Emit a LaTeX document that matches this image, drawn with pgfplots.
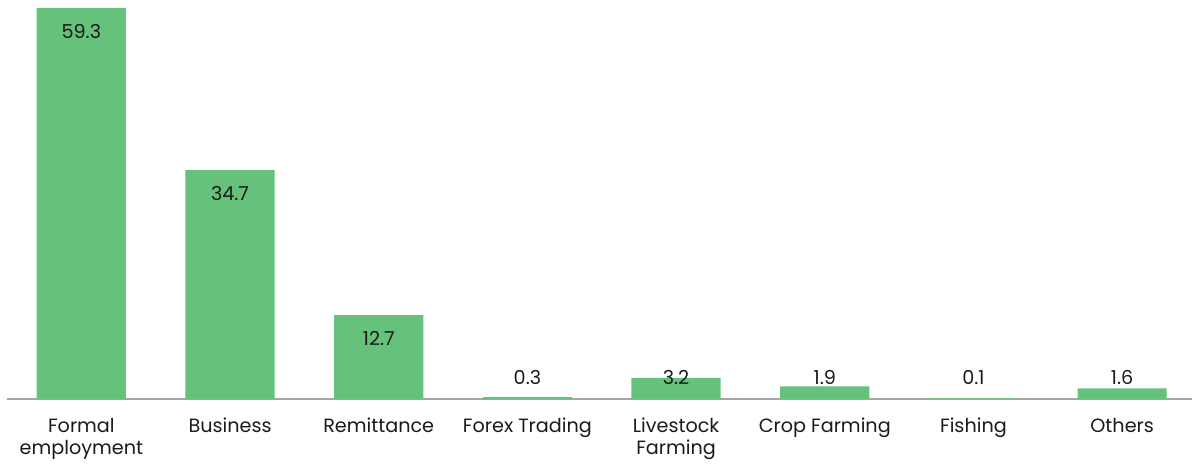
\documentclass[border=0pt]{standalone}
\usepackage{pgfplots}
\pgfplotsset{compat=1.18}
\usetikzlibrary{calc}
\usepackage{fontspec}
\setmainfont{Poppins}
\definecolor{barg}{RGB}{102,193,122}
\definecolor{axg}{RGB}{166,166,166}
\definecolor{txt}{RGB}{26,26,26}
\begin{document}
\begin{tikzpicture}
\begin{axis}[name=ax, scale only axis, width=592.5bp, height=199.5bp,
  xmin=-0.5, xmax=7.47, ymin=0, ymax=60.5,
  axis x line*=bottom, axis y line=none,
  x axis line style={axg, line width=1bp, -},
  xtick={0,...,7},
  xticklabels={{Formal\\employment},Business,Remittance,Forex Trading,{Livestock\\Farming},Crop Farming,Fishing,Others},
  major tick length=0pt, tick style={draw=none},
  xticklabel style={align=center, font=\fontsize{9.6bp}{11bp}\selectfont, text=txt, anchor=north, yshift=-6bp},
  ytick=\empty,
  clip=false,
]
\addplot[ybar, bar width=0.6, fill=barg, draw=none] coordinates {
  (0,59.3) (1,34.7) (2,12.7) (3,0.3) (4,3.2) (5,1.9) (6,0.1) (7,1.6)};
\addplot[only marks, mark=none, nodes near coords, point meta=explicit symbolic,
  nodes near coords style={anchor=center, font=\fontsize{9.6bp}{11bp}\selectfont, text=txt}]
  table[meta=lab] {
x y lab
0 55.8 59.3
1 31.2 34.7
2 9.2 12.7
3 3.2 0.3
4 3.2 3.2
5 3.2 1.9
6 3.2 0.1
7 3.2 1.6
};
\end{axis}
\pgfresetboundingbox
\path[use as bounding box] ($(ax.south west)+(-3.5bp,-32.5bp)$) rectangle (ax.north east);
\end{tikzpicture}
\end{document}
